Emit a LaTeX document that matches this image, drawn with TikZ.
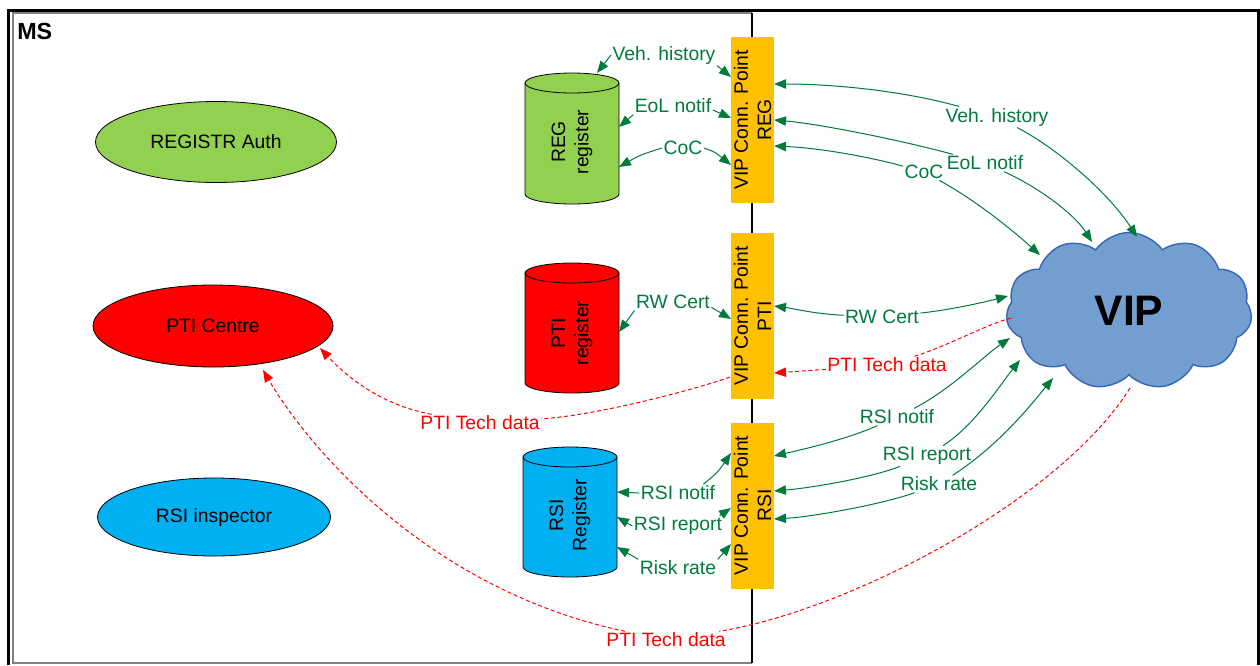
\documentclass[tikz,border=0pt]{standalone}
\usepackage{fontspec}
\setmainfont{Liberation Sans}
\usetikzlibrary{shapes.geometric,shapes.symbols,arrows.meta}
\definecolor{gr}{RGB}{0,122,61}
\definecolor{lgreen}{RGB}{146,208,80}
\definecolor{cyanb}{RGB}{0,176,240}
\definecolor{orng}{RGB}{255,192,0}
\definecolor{cloudfill}{RGB}{114,159,207}
\definecolor{cloudline}{RGB}{58,104,184}
\definecolor{msgray}{RGB}{128,128,128}
\begin{document}
\begin{tikzpicture}[x=0.75pt,y=-0.75pt,
  txt/.style={font=\fontsize{14.5}{17.4}\selectfont},
  glabel/.style={txt,text=gr,inner sep=1pt},
  rlabel/.style={txt,text=red,inner sep=1pt},
  garrow/.style={draw=gr,line width=0.75pt,-{Triangle[length=9pt,width=7pt]}},
  rarrow/.style={draw=red,line width=0.75pt,dash pattern=on 3pt off 2pt,-{Triangle[length=9pt,width=7pt]}},
  rline/.style={draw=red,line width=0.75pt,dash pattern=on 3pt off 2pt},
  actor/.style={ellipse,draw=black,line width=0.6pt,txt,inner sep=0pt},
  cpbox/.style={fill=orng,rotate=90,minimum width=124.5pt,minimum height=32.25pt,txt,align=center,inner sep=0pt},
  cyltext/.style={txt,rotate=90,align=center,inner sep=0pt},
  cylline/.style={draw=black,line width=0.6pt}
]
\useasboundingbox (0,0) rectangle (1260,665);
% outer frame
\draw[line width=2.25pt] (8.5,665) -- (8.5,10) -- (1258.5,10) -- (1258.5,665);
% MS box
\draw[draw=msgray,line width=1.3pt] (752,663) -- (13,663) -- (13,13) -- (752,13);
\draw[line width=0.8pt] (752,13) -- (752,663);
\node[font=\bfseries\fontsize{17.5}{20}\selectfont,anchor=west,inner sep=0pt] (ms) at (17,31) {MS};

% actors
\node[actor,fill=lgreen,minimum width=180.75pt,minimum height=60.75pt] (regauth) at (216,142) {REGISTR Auth};
\node[actor,fill=red,minimum width=180pt,minimum height=61.5pt] (pticentre) at (213,326) {PTI Centre};
\node[actor,fill=cyanb,minimum width=174.75pt,minimum height=58.5pt] (rsiinsp) at (214,517) {RSI inspector};

% cylinders
\draw[cylline,fill=lgreen] (525,83) -- (525,194) arc[start angle=180,end angle=360,x radius=35.25pt,y radius=7.5pt] -- (619,83) arc[start angle=0,end angle=180,x radius=35.25pt,y radius=7.5pt] -- cycle;
\draw[cylline] (525,83) arc[start angle=180,end angle=360,x radius=35.25pt,y radius=7.5pt];
\node[cyltext] (regcyl) at (572,142) {REG\\register};

\draw[cylline,fill=red] (525,273) -- (525,383) arc[start angle=180,end angle=360,x radius=35.25pt,y radius=7.5pt] -- (619,273) arc[start angle=0,end angle=180,x radius=35.25pt,y radius=7.5pt] -- cycle;
\draw[cylline] (525,273) arc[start angle=180,end angle=360,x radius=35.25pt,y radius=7.5pt];
\node[cyltext] (pticyl) at (572,333) {PTI\\register};

\draw[cylline,fill=cyanb] (523,457) -- (523,567) arc[start angle=180,end angle=360,x radius=35.25pt,y radius=7.5pt] -- (617,457) arc[start angle=0,end angle=180,x radius=35.25pt,y radius=7.5pt] -- cycle;
\draw[cylline] (523,457) arc[start angle=180,end angle=360,x radius=35.25pt,y radius=7.5pt];
\node[cyltext] (rsicyl) at (570,515) {RSI\\Register};

% connection points
\node[cpbox] (regcp) at (752.5,120) {VIP Conn. Point\\REG};
\node[cpbox] (pticp) at (752.5,316) {VIP Conn. Point\\PTI};
\node[cpbox] (rsicp) at (752.5,505.5) {VIP Conn. Point\\RSI};

% cloud
\node[cloud,cloud puffs=11,cloud puff arc=110,cloud ignores aspect,minimum width=184.5pt,minimum height=117.75pt,fill=cloudfill,draw=cloudline,line width=1.1pt,font=\bfseries\fontsize{32}{36}\selectfont] (vip) at (1129,311) {VIP};

% coordinates (free ends)
\coordinate (t1a) at (597,73);  \coordinate (t1b) at (731,77);
\coordinate (t2a) at (619,127); \coordinate (t2b) at (731,118);
\coordinate (t3a) at (619,167); \coordinate (t3b) at (731,165);
\coordinate (t4a) at (619,332); \coordinate (t4b) at (731,319);
\coordinate (t5a) at (617,492); \coordinate (t5b) at (731,453);
\coordinate (t6a) at (617,517); \coordinate (t6b) at (731,508);
\coordinate (t7a) at (617,547); \coordinate (t7b) at (731,544);
\coordinate (c8a) at (774,84);  \coordinate (c8b) at (1137,237);
\coordinate (c9a) at (774,120); \coordinate (c9b) at (1092,242);
\coordinate (c10a) at (774,146); \coordinate (c10b) at (1040,255);
\coordinate (c11a) at (774,306); \coordinate (c11b) at (1008,296);
\coordinate (c12a) at (1011,318); \coordinate (c12b) at (774,373);
\coordinate (c13a) at (774,456); \coordinate (c13b) at (1010,338);
\coordinate (c14a) at (774,491); \coordinate (c14b) at (1020,360);
\coordinate (c15a) at (774,519); \coordinate (c15b) at (1053,378);
\coordinate (p16a) at (730,377); \coordinate (p16b) at (320,348);
\coordinate (p17a) at (1130,388); \coordinate (p17b) at (263,370);

% register <-> connection point labels
\node[glabel] (l1) at (664,55) {Veh. history};
\node[glabel] (l2) at (673,106) {EoL notif};
\node[glabel] (l3) at (683,148) {CoC};
\node[glabel] (l4) at (673,302) {RW Cert};
\node[glabel] (l5) at (678,493) {RSI notif};
\node[glabel] (l6) at (678,526) {RSI report};
\node[glabel] (l7) at (678,568) {Risk rate};

\draw[garrow] (l1.west) -- (t1a);
\draw[garrow] (l1.south east) -- (t1b);
\draw[garrow] (l2.south west) -- (t2a);
\draw[garrow] ([yshift=-3pt]l2.east) -- (t2b);
\draw[garrow] (l3.west) .. controls (640,155) .. (t3a);
\draw[garrow] (l3.east) .. controls (715,152) .. (t3b);
\draw[garrow] (l4.south west) -- (t4a);
\draw[garrow] ([yshift=-4pt]l4.east) -- (t4b);
\draw[garrow] (l5.west) -- (t5a);
\draw[garrow] ([xshift=-10pt]l5.north east) .. controls (718,472) .. (t5b);
\draw[garrow] (l6.west) -- (t6a);
\draw[garrow] ([xshift=-3pt]l6.north east) -- (t6b);
\draw[garrow] (l7.north west) -- (t7a);
\draw[garrow] (l7.north east) -- (t7b);

% connection point <-> VIP
\node[glabel] (l8) at (997,117) {Veh. history};
\node[glabel] (l9) at (985,163) {EoL notif};
\node[glabel] (l10) at (924,172) {CoC};
\node[glabel] (l11) at (882,317) {RW Cert};
\node[rlabel] (l12) at (887,365) {PTI Tech data};
\node[glabel] (l13) at (897,417) {RSI notif};
\node[glabel] (l14) at (927,456) {RSI report};
\node[glabel] (l15) at (939,484) {Risk rate};

\draw[garrow] (l8) .. controls (900,90) and (830,84) .. (c8a);
\draw[garrow] (l8) .. controls (1060,150) and (1110,195) .. (c8b);
\draw[garrow] (l9) .. controls (900,140) and (820,124) .. (c9a);
\draw[garrow] (l9) .. controls (1040,188) and (1075,215) .. (c9b);
\draw[garrow] (l10) .. controls (870,157) and (820,148) .. (c10a);
\draw[garrow] (l10) .. controls (975,200) and (1010,228) .. (c10b);
\draw[garrow] (l11) .. controls (815,314) and (790,308) .. (c11a);
\draw[garrow] (l11) .. controls (950,310) and (985,302) .. (c11b);
\draw[rline] (c12a) .. controls (985,325) and (950,345) .. (l12);
\draw[rarrow] (l12) -- (c12b);
\draw[garrow] (l13) .. controls (845,440) and (800,450) .. (c13a);
\draw[garrow] (l13) .. controls (950,390) and (985,355) .. (c13b);
\draw[garrow] (l14) .. controls (870,478) and (810,488) .. (c14a);
\draw[garrow] (l14) .. controls (975,425) and (1000,385) .. (c14b);
\draw[garrow] (l15) .. controls (880,505) and (810,517) .. (c15a);
\draw[garrow] (l15) .. controls (1000,445) and (1035,400) .. (c15b);

% PTI tech data to PTI Centre
\node[rlabel] (l16) at (480,423) {PTI Tech data};
\node[rlabel] (l17) at (666,640) {PTI Tech data};
\draw[rline] (p16a) .. controls (700,388) and (600,415) .. (l16);
\draw[rarrow] (l16) .. controls (380,405) and (345,375) .. (p16b);
\draw[rline] (p17a) .. controls (1060,500) and (850,610) .. (l17);
\draw[rarrow] (l17) .. controls (430,590) and (310,450) .. (p17b);
\end{tikzpicture}
\end{document}
